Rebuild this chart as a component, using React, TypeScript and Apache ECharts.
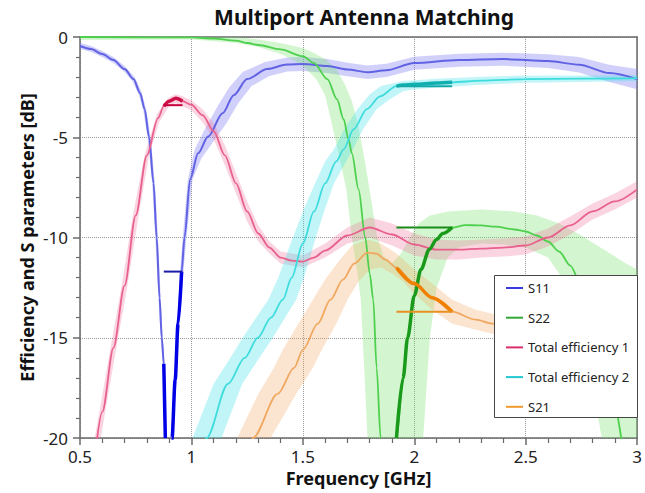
import React, { useEffect, useRef } from 'react';
import * as echarts from 'echarts';

type P = [number, number];

const FONT = '"Noto Sans", "Open Sans", sans-serif';
const TITLE = 'Multiport Antenna Matching';
const X_NAME = 'Frequency [GHz]';
const Y_NAME = 'Efficiency and S parameters [dB]';

const legendNames = ['S11', 'S22', 'Total efficiency 1', 'Total efficiency 2', 'S21'];
const legendColors = ['#3a3ae0', '#34a834', '#d8306c', '#22c8d0', '#f09a30'];

// goal frequency ranges (GHz) and goal levels (dB)
const goalBand1: P = [0.876, 0.96];
const goalBand2: P = [1.92, 2.17];
const s11Goal = -11.7;
const te1Goal = -3.4;
const s22Goal = -9.5;
const te2Goal = -2.46;
const s21Goal = -13.7;

// S11
const s11: P[] = [[0.5,-0.45],[0.55,-0.6],[0.6,-0.85],[0.65,-1.15],[0.7,-1.6],[0.74,-2.1],[0.77,-2.8],[0.79,-3.6],[0.81,-5.0],[0.83,-7.3],[0.844,-10],[0.857,-13],[0.867,-15],[0.876,-16.3],[0.883,-20],[0.893,-30],[0.905,-30],[0.913,-20],[0.927,-17.1],[0.94,-14.3],[0.956,-11.7],[0.969,-10],[0.994,-7.1],[1.03,-5.8],[1.075,-4.96],[1.14,-3.8],[1.19,-2.9],[1.25,-2.1],[1.34,-1.6],[1.43,-1.37],[1.5,-1.35],[1.61,-1.45],[1.7,-1.62],[1.79,-1.76],[1.875,-1.66],[2.0,-1.3],[2.2,-1.15],[2.4,-1.1],[2.6,-1.2],[2.74,-1.38],[2.875,-1.8],[3.0,-2.1]];
const s11Up: P[] = [[0.5,-0.3],[0.55,-0.45],[0.6,-0.7],[0.65,-1.0],[0.7,-1.45],[0.745,-2.0],[0.775,-2.7],[0.797,-3.6],[0.817,-5.0],[0.836,-7.3],[0.85,-10],[0.862,-13],[0.871,-15],[0.879,-16.3],[0.886,-20],[0.893,-25],[0.905,-25],[0.909,-20],[0.922,-17.1],[0.934,-14.3],[0.949,-11.7],[0.961,-10],[0.984,-7.1],[1.015,-5.6],[1.06,-4.6],[1.12,-3.4],[1.17,-2.5],[1.23,-1.75],[1.33,-1.25],[1.43,-1.02],[1.5,-1.0],[1.61,-1.1],[1.7,-1.28],[1.79,-1.42],[1.875,-1.33],[2.0,-0.98],[2.2,-0.83],[2.4,-0.78],[2.6,-0.86],[2.74,-1.0],[2.875,-1.38],[3.0,-1.6]];
const s11Lo: P[] = [[0.5,-0.6],[0.55,-0.75],[0.6,-1.0],[0.65,-1.3],[0.7,-1.75],[0.735,-2.2],[0.765,-2.9],[0.783,-3.6],[0.803,-5.0],[0.824,-7.3],[0.838,-10],[0.852,-13],[0.862,-15],[0.872,-16.3],[0.879,-20],[0.883,-25],[0.915,-25],[0.918,-20],[0.933,-17.1],[0.947,-14.3],[0.964,-11.7],[0.978,-10],[1.005,-7.1],[1.045,-6.05],[1.09,-5.35],[1.16,-4.25],[1.21,-3.3],[1.27,-2.45],[1.35,-1.95],[1.43,-1.72],[1.5,-1.7],[1.61,-1.8],[1.7,-1.96],[1.79,-2.1],[1.875,-2.0],[2.0,-1.63],[2.2,-1.48],[2.4,-1.43],[2.6,-1.55],[2.74,-1.77],[2.875,-2.25],[3.0,-2.6]];

// S22
const s22: P[] = [[0.5,0],[1.0,-0.02],[1.1,-0.08],[1.2,-0.18],[1.253,-0.3],[1.3,-0.4],[1.4,-0.62],[1.5,-0.96],[1.55,-1.3],[1.61,-2.1],[1.653,-3.1],[1.683,-4.1],[1.705,-5.1],[1.72,-5.8],[1.75,-7.6],[1.78,-10.0],[1.8,-11.8],[1.816,-13.1],[1.831,-16.5],[1.849,-20],[1.865,-25],[1.9,-28],[1.912,-24],[1.92,-20],[1.95,-17],[1.97,-15],[2.0,-12.9],[2.03,-11.6],[2.067,-10.6],[2.1,-10.1],[2.128,-9.8],[2.17,-9.5],[2.23,-9.38],[2.3,-9.4],[2.364,-9.46],[2.45,-9.6],[2.5,-9.7],[2.55,-9.9],[2.6,-10.2],[2.65,-10.7],[2.7,-11.4],[2.75,-12.4],[2.8,-14.0],[2.85,-16],[2.9,-18.5],[2.95,-21],[3.0,-23]];
const s22Up: P[] = [[0.5,0.15],[1.0,0.1],[1.2,0],[1.3,-0.12],[1.4,-0.3],[1.5,-0.55],[1.55,-0.8],[1.6,-1.1],[1.65,-1.6],[1.69,-2.4],[1.72,-3.2],[1.742,-4.1],[1.76,-5.1],[1.78,-6.3],[1.805,-8.0],[1.83,-9.8],[1.86,-10.9],[1.9,-11.3],[1.94,-10.8],[1.98,-10.0],[2.02,-9.3],[2.07,-8.9],[2.15,-8.7],[2.3,-8.6],[2.45,-8.7],[2.55,-8.9],[2.65,-9.3],[2.75,-9.9],[2.85,-10.6],[2.95,-11.3],[3.0,-11.6]];
const s22Lo: P[] = [[0.5,-0.15],[1.0,-0.12],[1.2,-0.3],[1.3,-0.5],[1.4,-0.85],[1.45,-1.1],[1.5,-1.45],[1.56,-2.1],[1.6,-2.9],[1.625,-4.1],[1.66,-5.8],[1.695,-7.6],[1.72,-10],[1.745,-11.8],[1.76,-13.1],[1.775,-16.5],[1.79,-20],[1.795,-25],[2.02,-25],[2.04,-20],[2.07,-15],[2.1,-12.5],[2.15,-11],[2.2,-10.5],[2.3,-10.3],[2.4,-10.35],[2.5,-10.5],[2.6,-11.0],[2.65,-11.8],[2.7,-13.0],[2.75,-15],[2.8,-17.5],[2.85,-20.5],[2.9,-25],[3.0,-25]];

// Total efficiency 1
const te1: P[] = [[0.57,-20.6],[0.6,-18.7],[0.65,-15.5],[0.7,-12.4],[0.75,-8.9],[0.8,-5.9],[0.85,-4.05],[0.876,-3.45],[0.9,-3.2],[0.93,-3.05],[0.96,-3.2],[1.0,-3.38],[1.05,-3.9],[1.1,-4.7],[1.15,-5.9],[1.2,-7.3],[1.25,-8.7],[1.3,-9.8],[1.35,-10.5],[1.4,-11.0],[1.45,-11.15],[1.5,-11.2],[1.55,-11.0],[1.6,-10.65],[1.7,-9.9],[1.8,-9.5],[1.9,-9.85],[2.0,-10.35],[2.1,-10.6],[2.2,-10.6],[2.3,-10.55],[2.4,-10.5],[2.5,-10.4],[2.6,-10.0],[2.7,-9.4],[2.8,-8.7],[2.9,-8.2],[3.0,-7.6]];
const te1Up: P[] = [[0.556,-20.6],[0.587,-18.7],[0.637,-15.5],[0.687,-12.4],[0.737,-8.9],[0.79,-5.9],[0.845,-3.85],[0.9,-3.0],[0.93,-2.85],[0.96,-2.95],[1.0,-3.15],[1.05,-3.6],[1.1,-4.3],[1.15,-5.4],[1.2,-6.8],[1.25,-8.2],[1.3,-9.4],[1.35,-10.2],[1.4,-10.7],[1.5,-10.9],[1.6,-10.3],[1.7,-9.5],[1.8,-9.0],[1.9,-9.3],[2.0,-9.8],[2.1,-10.1],[2.2,-10.15],[2.3,-10.1],[2.4,-10.05],[2.5,-9.95],[2.6,-9.55],[2.7,-8.95],[2.8,-8.3],[2.9,-7.8],[3.0,-7.2]];
const te1Lo: P[] = [[0.584,-20.6],[0.613,-18.7],[0.663,-15.5],[0.713,-12.4],[0.763,-8.9],[0.81,-5.9],[0.855,-4.25],[0.9,-3.45],[0.93,-3.3],[0.96,-3.45],[1.0,-3.65],[1.05,-4.25],[1.1,-5.1],[1.15,-6.4],[1.2,-7.8],[1.25,-9.2],[1.3,-10.2],[1.35,-10.8],[1.4,-11.3],[1.5,-11.5],[1.6,-11.0],[1.7,-10.3],[1.8,-10.0],[1.9,-10.4],[2.0,-10.9],[2.1,-11.1],[2.2,-11.1],[2.3,-11.0],[2.4,-10.95],[2.5,-10.85],[2.6,-10.45],[2.7,-9.85],[2.8,-9.1],[2.9,-8.6],[3.0,-8.0]];

// Total efficiency 2
const te2: P[] = [[1.05,-20.6],[1.068,-20],[1.164,-17.3],[1.239,-16],[1.298,-15],[1.357,-14],[1.41,-13.1],[1.45,-12.0],[1.5,-10.3],[1.55,-8.7],[1.6,-7.3],[1.65,-6.2],[1.683,-5.6],[1.728,-4.6],[1.787,-3.6],[1.846,-2.96],[1.92,-2.45],[1.95,-2.4],[2.0,-2.36],[2.1,-2.3],[2.17,-2.26],[2.3,-2.18],[2.5,-2.1],[2.75,-2.08],[3.0,-2.05]];
const te2Up: P[] = [[0.99,-20.6],[1.005,-20],[1.1,-17.3],[1.175,-16],[1.23,-15],[1.29,-14],[1.345,-13.1],[1.39,-12],[1.445,-10.3],[1.5,-8.7],[1.555,-7.3],[1.6,-6.2],[1.64,-5.6],[1.685,-4.6],[1.745,-3.6],[1.8,-2.85],[1.85,-2.45],[1.95,-2.2],[2.1,-2.08],[2.3,-1.98],[2.5,-1.92],[2.75,-1.92],[3.0,-1.9]];
const te2Lo: P[] = [[1.12,-20.6],[1.135,-20],[1.228,-17.3],[1.305,-16],[1.365,-15],[1.42,-14],[1.47,-13.1],[1.505,-12],[1.55,-10.3],[1.595,-8.7],[1.64,-7.3],[1.695,-6.2],[1.725,-5.6],[1.77,-4.6],[1.83,-3.6],[1.89,-3.1],[1.95,-2.7],[2.0,-2.6],[2.1,-2.52],[2.3,-2.38],[2.5,-2.28],[2.75,-2.24],[3.0,-2.2]];

// S21
const s21: P[] = [[1.26,-20.6],[1.276,-20],[1.387,-17.8],[1.461,-16.5],[1.5,-15.6],[1.567,-14.3],[1.624,-13.1],[1.68,-12.1],[1.73,-11.3],[1.79,-10.75],[1.83,-10.8],[1.87,-11.1],[1.92,-11.5],[2.0,-12.3],[2.08,-13.0],[2.17,-13.7],[2.276,-14.1],[2.35,-14.3],[2.5,-14.6],[2.75,-14.9],[3.0,-15.0]];
const s21Up: P[] = [[1.19,-20.6],[1.205,-20],[1.3,-17.8],[1.37,-16.5],[1.41,-15.6],[1.48,-14.3],[1.545,-13.1],[1.6,-12.1],[1.66,-11.2],[1.72,-10.4],[1.79,-10.1],[1.85,-10.3],[1.92,-10.8],[2.0,-11.6],[2.08,-12.3],[2.17,-13.1],[2.276,-13.6],[2.35,-13.8],[2.5,-14.1],[2.75,-14.4],[3.0,-14.5]];
const s21Lo: P[] = [[1.34,-20.6],[1.355,-20],[1.47,-17.8],[1.545,-16.5],[1.585,-15.6],[1.65,-14.3],[1.7,-13.1],[1.75,-12.2],[1.8,-11.6],[1.85,-11.5],[1.9,-11.8],[1.95,-12.2],[2.0,-12.8],[2.08,-13.6],[2.17,-14.3],[2.276,-14.6],[2.35,-14.8],[2.5,-15.1],[2.75,-15.4],[3.0,-15.5]];

function within(arr: P[], r: P): P[] {
  return arr.filter((p) => p[0] >= r[0] - 1e-9 && p[0] <= r[1] + 1e-9);
}

function band(name: string, up: P[], lo: P[], color: string): any {
  return {
    type: 'custom',
    name,
    clip: true,
    silent: true,
    z: 1,
    data: [[2, -10]],
    renderItem: (_params: any, api: any) => {
      const pts = up.map((p) => api.coord(p)).concat(lo.slice().reverse().map((p) => api.coord(p)));
      return { type: 'polygon', shape: { points: pts }, style: { fill: color, stroke: 'none' } };
    },
  };
}

function line(name: string, data: P[], color: string, width: number, z = 3, smooth: number | boolean = 0.3): any {
  return {
    type: 'line',
    name,
    data,
    symbol: 'none',
    showSymbol: false,
    smooth,
    smoothMonotone: 'x',
    clip: true,
    silent: true,
    z,
    lineStyle: { color, width },
    itemStyle: { color },
  };
}

export default function App() {
  const ref = useRef<HTMLDivElement>(null);
  useEffect(() => {
    document.body.style.margin = '0';
    if (!ref.current) return;
    const chart = echarts.init(ref.current, undefined, { renderer: 'svg' });
    const axisGray = '#6a6a6a';
    const option: any = {
      animation: false,
      backgroundColor: '#ffffff',
      grid: { left: 80, right: 1, top: 37, bottom: 55, containLabel: false },
      xAxis: [
        {
          type: 'value', min: 0.5, max: 3, interval: 0.5,
          name: X_NAME, nameLocation: 'middle', nameGap: 31, nameMoveOverlap: false,
          nameTextStyle: { fontFamily: FONT, fontSize: 18, fontWeight: 'bold', color: '#111' },
          axisLine: { onZero: false, lineStyle: { color: axisGray, width: 1.5 } },
          axisTick: { show: true, length: 7, lineStyle: { color: axisGray, width: 1.5 } },
          minorTick: { show: true, splitNumber: 5, length: 5, lineStyle: { color: axisGray, width: 1.2 } },
          axisLabel: { fontFamily: FONT, fontSize: 17, color: '#222', margin: 10 },
          splitLine: { show: true, lineStyle: { color: '#9a9a9a', type: 'dotted', width: 1 } },
        },
        {
          type: 'value', position: 'top', min: 0.5, max: 3, interval: 0.5,
          axisLine: { show: true, onZero: false, lineStyle: { color: axisGray, width: 1.5 } },
          axisTick: { show: false }, axisLabel: { show: false }, splitLine: { show: false },
        },
      ],
      yAxis: [
        {
          type: 'value', min: -20, max: 0, interval: 5,
          name: Y_NAME, nameLocation: 'middle', nameGap: 44, nameMoveOverlap: false,
          nameTextStyle: { fontFamily: FONT, fontSize: 18, fontWeight: 'bold', color: '#111' },
          axisLine: { show: true, onZero: false, lineStyle: { color: axisGray, width: 1.5 } },
          axisTick: { show: true, length: 7, lineStyle: { color: axisGray, width: 1.5 } },
          minorTick: { show: true, splitNumber: 5, length: 4, lineStyle: { color: axisGray, width: 1.2 } },
          axisLabel: { fontFamily: FONT, fontSize: 17, color: '#222', margin: 12 },
          splitLine: { show: true, lineStyle: { color: '#9a9a9a', type: 'dotted', width: 1 } },
        },
        {
          type: 'value', position: 'right', min: -20, max: 0, interval: 5,
          axisLine: { show: true, onZero: false, lineStyle: { color: axisGray, width: 1.5 } },
          axisTick: { show: false }, axisLabel: { show: false }, splitLine: { show: false },
        },
      ],
      legend: {
        data: legendNames.map((n, i) => ({ name: n, icon: 'rect', itemStyle: { color: legendColors[i] } })),
        orient: 'vertical', left: 506, top: 279,
        itemWidth: 17, itemHeight: 2, itemGap: 11.7, padding: 0,
        selectedMode: false, z: 60,
        textStyle: { fontFamily: FONT, fontSize: 13, color: '#222', lineHeight: 18 },
      },
      graphic: {
        elements: [
          {
            type: 'rect', z: 50, silent: true,
            shape: { x: 494.5, y: 275.5, width: 143, height: 142 },
            style: { fill: '#ffffff', stroke: '#454545', lineWidth: 1 },
          },
          {
            type: 'text', z: 50, x: 364, y: 17, silent: true,
            style: {
              text: TITLE, fontFamily: FONT, fontSize: 21, fontWeight: 'bold', fill: '#111',
              align: 'center', verticalAlign: 'middle', textAlign: 'center', textVerticalAlign: 'middle',
            },
          },
        ],
      },
      series: [
        band('S11 band', s11Up, s11Lo, 'rgba(120,120,240,0.35)'),
        band('S22 band', s22Up, s22Lo, 'rgba(110,225,100,0.3)'),
        band('TE1 band', te1Up, te1Lo, 'rgba(240,120,160,0.32)'),
        band('TE2 band', te2Up, te2Lo, 'rgba(80,225,235,0.35)'),
        band('S21 band', s21Up, s21Lo, 'rgba(245,170,100,0.3)'),
        line('S11', s11, '#6262e4', 2),
        line('S22', s22, '#4ed04e', 1.8),
        line('Total efficiency 1', te1, '#e8608c', 1.8),
        line('Total efficiency 2', te2, '#3edcdc', 1.8),
        line('S21', s21, '#f0a860', 1.8),
        line('S11 goal L', within(s11, [goalBand1[0], 0.885]), '#0000e6', 3.5, 5),
        line('S11 goal R', within(s11, [0.9, goalBand1[1]]), '#0000e6', 3.5, 5),
        line('TE1 goal', within(te1, goalBand1), '#d0104a', 3.5, 5),
        line('S22 goal', within(s22, goalBand2), '#1a9a1a', 3.5, 5),
        line('TE2 goal', within(te2, goalBand2), '#10b0b0', 3.5, 5),
        line('S21 goal', within(s21, goalBand2), '#f08000', 3.5, 5),
        line('S11 target', [[goalBand1[0], s11Goal], [goalBand1[1], s11Goal]], '#1c1ca8', 2, 6, false),
        line('TE1 target', [[goalBand1[0], te1Goal], [goalBand1[1], te1Goal]], '#c8003c', 2, 6, false),
        line('S22 target', [[goalBand2[0], s22Goal], [goalBand2[1], s22Goal]], '#1a8a1a', 2, 6, false),
        line('TE2 target', [[goalBand2[0], te2Goal], [goalBand2[1], te2Goal]], '#14a8a8', 2, 6, false),
        line('S21 target', [[goalBand2[0], s21Goal], [goalBand2[1], s21Goal]], '#e89020', 2, 6, false),
      ],
    };
    chart.setOption(option);
    return () => chart.dispose();
  }, []);
  return <div ref={ref} style={{ width: 645, height: 493 }} />;
}
